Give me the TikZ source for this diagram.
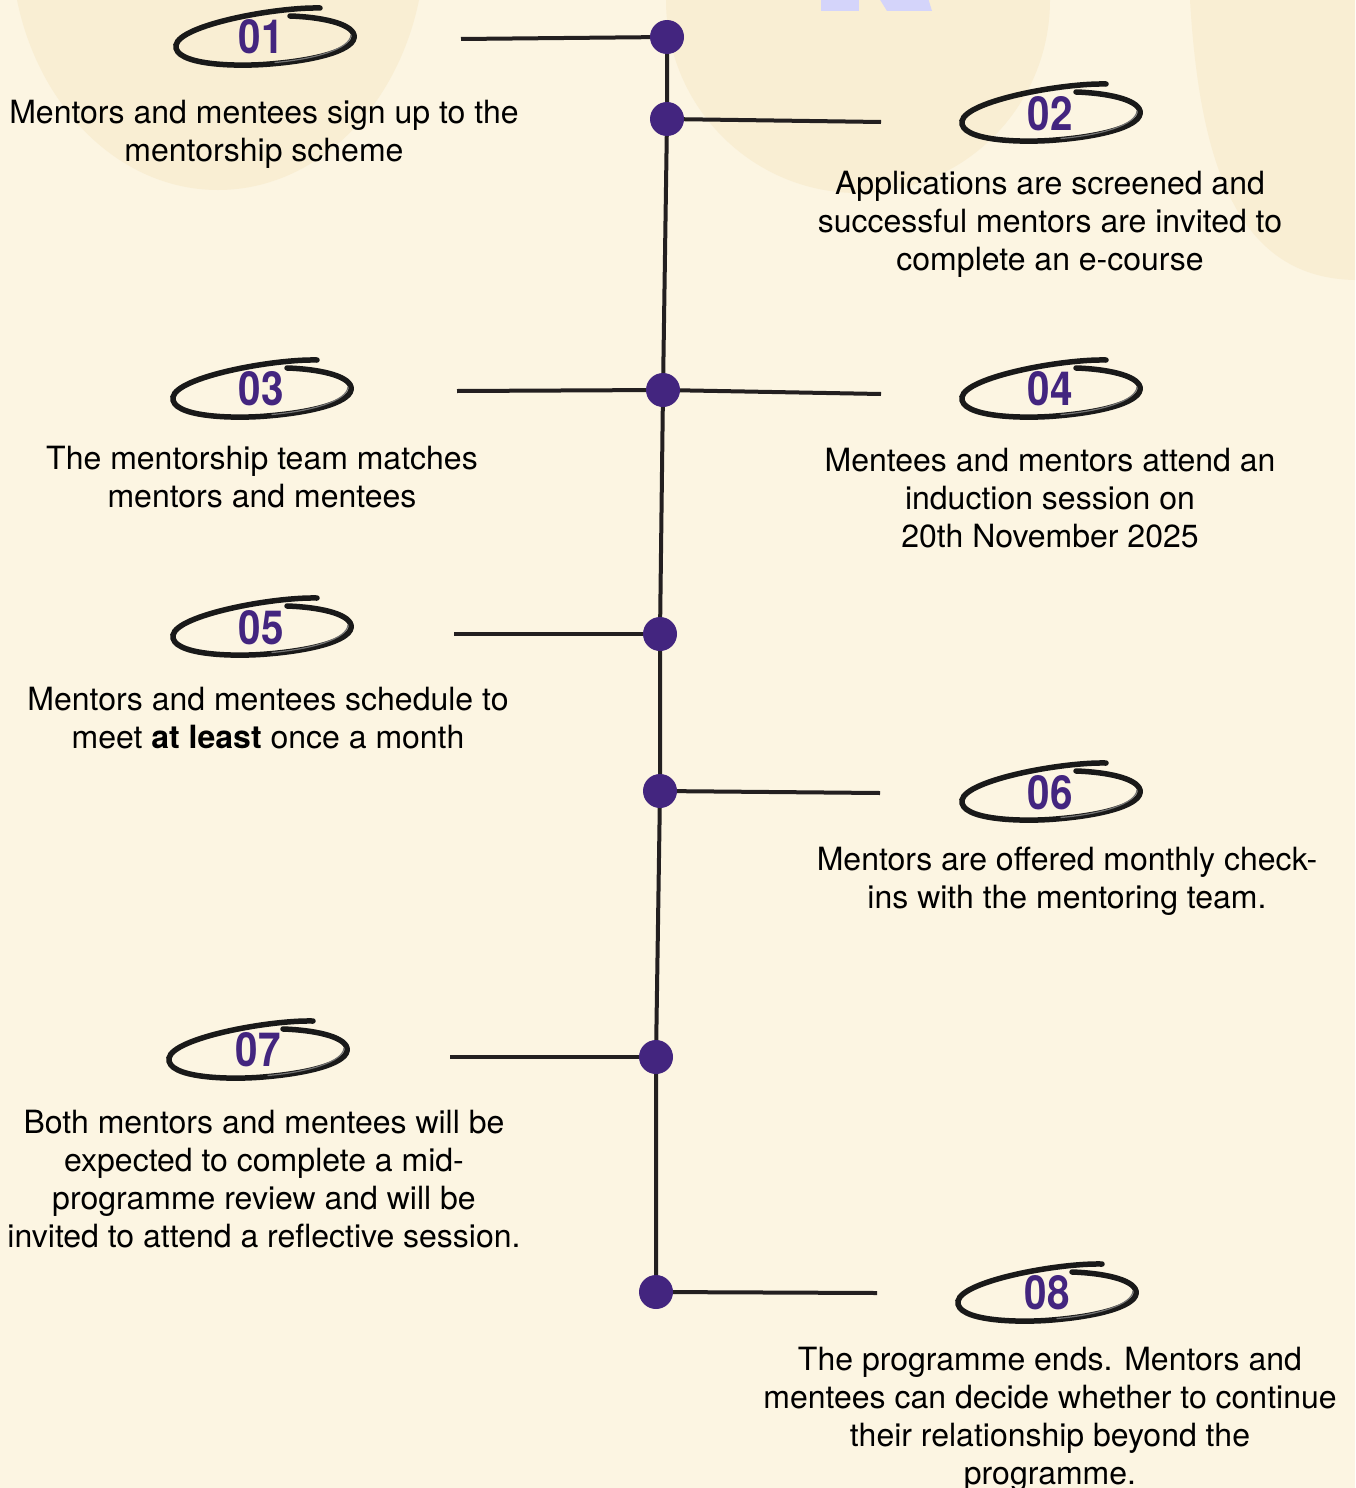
\documentclass[tikz,border=0pt]{standalone}
\usepackage{fontspec}
\setmainfont{TeX Gyre Heros}
\newfontfamily\numfont[FakeStretch=0.86]{TeX Gyre Heros}
\pgfdeclarelayer{bglayer}
\pgfdeclarelayer{linelayer}
\pgfsetlayers{bglayer,linelayer,main}
\definecolor{pagebg}{HTML}{FCF5E2}
\definecolor{blobc}{HTML}{F9EED3}
\definecolor{lav}{HTML}{D4D4FA}
\definecolor{dotpurple}{HTML}{43257F}
\definecolor{linedark}{HTML}{231F20}
\tikzset{
  dotnode/.style={circle, fill=dotpurple, minimum size=34pt, inner sep=0pt},
  conn/.style={draw=linedark, line width=4pt},
  spine/.style={draw=linedark, line width=4pt},
  numlabel/.style={inner sep=0pt, text=dotpurple, font=\numfont\bfseries\fontsize{47}{47}\selectfont},
  desc/.style={inner sep=0pt, anchor=north, align=center, text=black, font=\fontsize{32}{38}\selectfont},
  brushline/.style={draw=black!90, line width=5.5pt, line cap=round},
  brushhi/.style={draw=black!55, line width=1.2pt, line cap=round},
  brush/.pic={
    \draw[brushline] (55,-29) .. controls (10,-30) and (-85,-12) .. (-89,8)
      .. controls (-92,28) and (-30,30) .. (5,27)
      .. controls (55,23) and (92,12) .. (89,-2)
      .. controls (86,-14) and (55,-20) .. (25,-21);
    \draw[brushhi] (10,25.5) .. controls (50,22) and (85,12) .. (86,-2);
  }
}
\begin{document}
\begin{tikzpicture}[x=1pt,y=-1pt]
\useasboundingbox (0,0) rectangle (1355,1488);
\begin{pgfonlayer}{bglayer}
  \fill[pagebg] (0,0) rectangle (1355,1488);
  \begin{scope}
    \clip (0,0) rectangle (1355,1488);
    \fill[blobc] (218,-60) ellipse [x radius=207pt, y radius=250pt];
    \fill[blobc] (858,0) ellipse [x radius=192pt, y radius=193pt];
    \fill[blobc] (1190,-5) -- (1190,0) .. controls (1200,170) and (1240,278) .. (1355,280) -- (1360,280) -- (1360,-5) -- cycle;
    \fill[lav] (821,-2) -- (859,-2) -- (859,11) -- (821,11) -- cycle;
    \fill[lav] (879,-2) -- (928,-2) -- (932,11) -- (887,11) -- cycle;
  \end{scope}
\end{pgfonlayer}

% timeline dots
\node[dotnode] (d1) at (667,37) {};
\node[dotnode] (d2) at (667,119) {};
\node[dotnode] (d3) at (663,390) {};
\node[dotnode] (d5) at (660,634) {};
\node[dotnode] (d6) at (660,791) {};
\node[dotnode] (d7) at (656,1057) {};
\node[dotnode] (d8) at (656,1292) {};

% connector ends
\coordinate (e1) at (461,39);
\coordinate (e2) at (881,122);
\coordinate (e3) at (457,391);
\coordinate (e4) at (881,394);
\coordinate (e5) at (454,634);
\coordinate (e6) at (880,793);
\coordinate (e7) at (450,1057);
\coordinate (e8) at (877,1293);

\begin{pgfonlayer}{linelayer}
  \draw[spine] (d1.center) -- (d2.center) -- (d3.center) -- (d5.center) -- (d6.center) -- (d7.center) -- (d8.center);
  \draw[conn] (e1) -- (d1.center);
  \draw[conn] (d2.center) -- (e2);
  \draw[conn] (e3) -- (d3.center);
  \draw[conn] (d3.center) -- (e4);
  \draw[conn] (e5) -- (d5.center);
  \draw[conn] (d6.center) -- (e6);
  \draw[conn] (e7) -- (d7.center);
  \draw[conn] (d8.center) -- (e8);
\end{pgfonlayer}

% brush strokes
\pic at (265,37) {brush};
\pic at (1051,113) {brush};
\pic at (262,389) {brush};
\pic at (1051,389) {brush};
\pic at (262,627) {brush};
\pic at (1051,792) {brush};
\pic at (258,1050) {brush};
\pic at (1047,1293) {brush};

% numbers
\node[numlabel] (n1) at (261,37) {01};
\node[numlabel] (n2) at (1050,114) {02};
\node[numlabel] (n3) at (261,389) {03};
\node[numlabel] (n4) at (1050,389) {04};
\node[numlabel] (n5) at (261,628) {05};
\node[numlabel] (n6) at (1050,793) {06};
\node[numlabel] (n7) at (258,1050) {07};
\node[numlabel] (n8) at (1047,1293) {08};

% descriptions
\node[desc] (t1) at (264,100) {Mentors and mentees sign up to the\\mentorship scheme};
\node[desc] (t2) at (1050,171) {Applications are screened and\\successful mentors are invited to\\complete an e-course};
\node[desc] (t3) at (262,446) {The mentorship team matches\\mentors and mentees};
\node[desc] (t4) at (1050,448) {Mentees and mentors attend an\\induction session on\\20th November 2025};
\node[desc] (t5) at (268,687) {Mentors and mentees schedule to\\meet \textbf{at least} once a month};
\node[desc] (t6) at (1067,847) {Mentors are offered monthly check-\\ins with the mentoring team.};
\node[desc] (t7) at (264,1110) {Both mentors and mentees will be\\expected to complete a mid-\\programme review and will be\\invited to attend a reflective session.};
\node[desc] (t8) at (1050,1347) {The programme ends. Mentors and\\mentees can decide whether to continue\\their relationship beyond the\\programme.};
\end{tikzpicture}
\end{document}
